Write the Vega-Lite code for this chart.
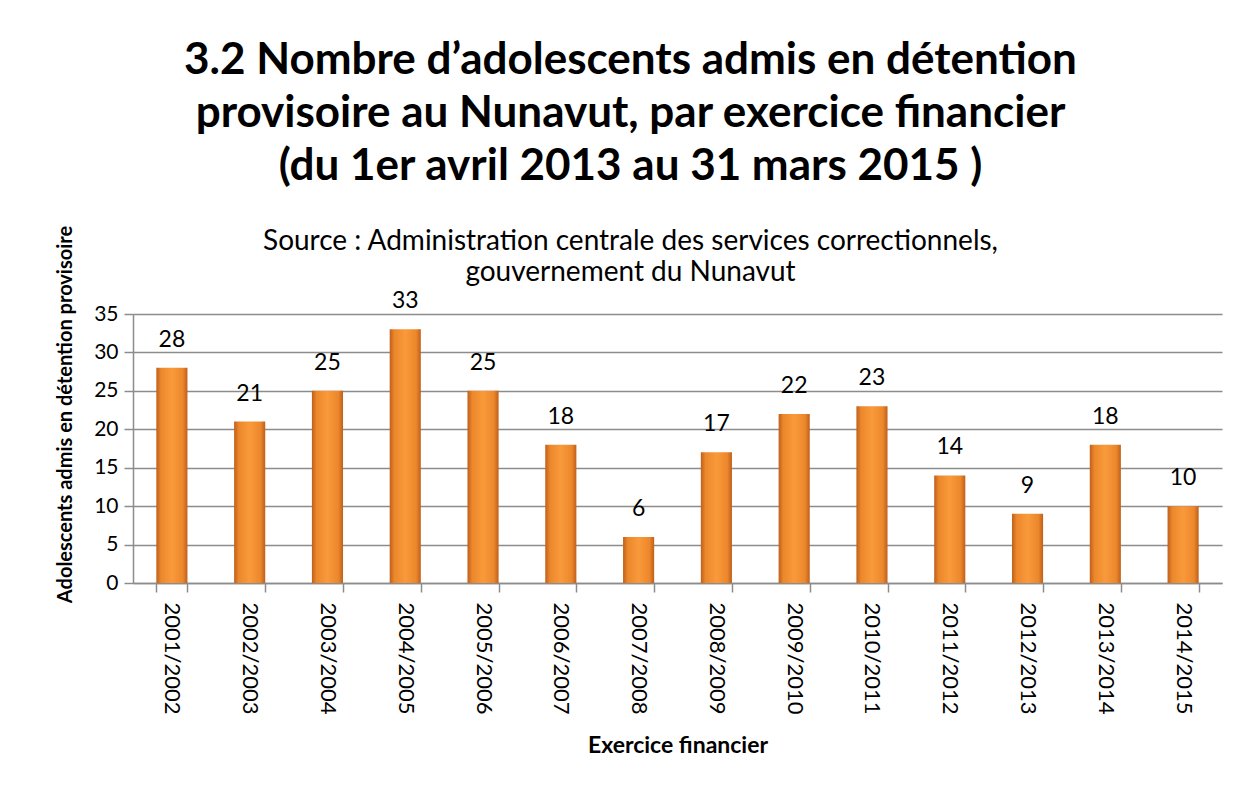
{
  "$schema": "https://vega.github.io/schema/vega-lite/v6.json",
  "autosize": "none",
  "width": 1089,
  "height": 269,
  "padding": {"left": 133, "top": 314, "right": 26, "bottom": 205},
  "background": "white",
  "title": {
    "text": ["3.2 Nombre d’adolescents admis en détention", "provisoire au Nunavut, par exercice   financier", "(du 1er avril 2013 au 31 mars 2015 )"],
    "subtitle": ["Source : Administration centrale des services correctionnels,", "gouvernement du  Nunavut"],
    "font": "Lato",
    "fontSize": 44,
    "fontWeight": "bold",
    "color": "black",
    "lineHeight": 53,
    "subtitleFont": "Lato",
    "subtitleFontSize": 28,
    "subtitleColor": "black",
    "subtitleLineHeight": 31,
    "subtitlePadding": 39,
    "anchor": "middle",
    "dx": -47,
    "offset": -62
  },
  "data": {
    "values": [
      {"exercice": "2001/2002", "n": 28},
      {"exercice": "2002/2003", "n": 21},
      {"exercice": "2003/2004", "n": 25},
      {"exercice": "2004/2005", "n": 33},
      {"exercice": "2005/2006", "n": 25},
      {"exercice": "2006/2007", "n": 18},
      {"exercice": "2007/2008", "n": 6},
      {"exercice": "2008/2009", "n": 17},
      {"exercice": "2009/2010", "n": 22},
      {"exercice": "2010/2011", "n": 23},
      {"exercice": "2011/2012", "n": 14},
      {"exercice": "2012/2013", "n": 9},
      {"exercice": "2013/2014", "n": 18},
      {"exercice": "2014/2015", "n": 10}
    ]
  },
  "encoding": {
    "x": {
      "field": "exercice",
      "type": "nominal",
      "sort": null,
      "scale": {"paddingInner": 0.6, "paddingOuter": 0.3},
      "axis": {
        "title": "Exercice financier",
        "titleFont": "Lato",
        "titleFontSize": 23,
        "titleFontWeight": "bold",
        "titleColor": "black",
        "titlePadding": 20,
        "labelAngle": 90,
        "labelFont": "Lato",
        "labelFontSize": 22,
        "labelColor": "black",
        "labelPadding": 10,
        "labelAlign": "left",
        "labelBaseline": "middle",
        "tickBand": "extent",
        "tickSize": 9,
        "tickColor": "#8c8c8c",
        "tickWidth": 1.5,
        "domainColor": "#8c8c8c",
        "domainWidth": 1.5
      }
    },
    "y": {
      "field": "n",
      "type": "quantitative",
      "scale": {"domain": [0, 35]},
      "axis": {
        "title": "Adolescents admis en détention provisoire",
        "titleFont": "Lato",
        "titleFontSize": 20,
        "titleFontWeight": "bold",
        "titleColor": "black",
        "titlePadding": 18,
        "titleY": 100,
        "values": [0, 5, 10, 15, 20, 25, 30, 35],
        "labelFont": "Lato",
        "labelFontSize": 21,
        "labelColor": "black",
        "labelPadding": 6,
        "tickSize": 9,
        "tickColor": "#8c8c8c",
        "tickWidth": 1.5,
        "domainColor": "#8c8c8c",
        "domainWidth": 1.5,
        "gridColor": "#8c8c8c",
        "gridWidth": 1.5
      }
    }
  },
  "layer": [
    {
      "mark": {
        "type": "bar",
        "color": {
          "gradient": "linear",
          "x1": 0, "x2": 1, "y1": 0, "y2": 0,
          "stops": [
            {"offset": 0, "color": "#bf5f1a"},
            {"offset": 0.15, "color": "#ec872c"},
            {"offset": 0.5, "color": "#f99a3a"},
            {"offset": 0.85, "color": "#ec872c"},
            {"offset": 1, "color": "#bf5f1a"}
          ]
        }
      }
    },
    {
      "mark": {"type": "text", "baseline": "bottom", "dy": -16, "font": "Lato", "fontSize": 23, "color": "black"},
      "encoding": {"text": {"field": "n", "type": "quantitative"}}
    }
  ],
  "config": {
    "view": {"stroke": null}
  }
}
